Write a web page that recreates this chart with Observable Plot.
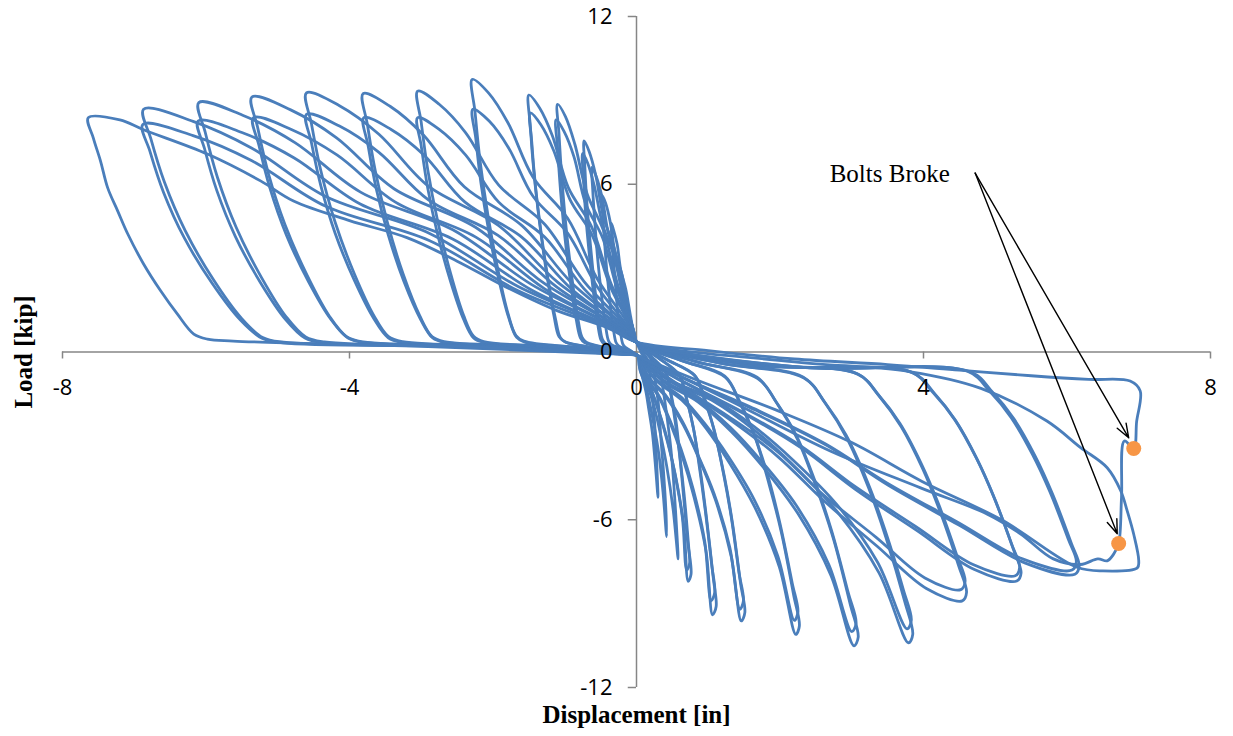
<!DOCTYPE html>
<html>
<head>
<meta charset="utf-8">
<script src="https://cdn.jsdelivr.net/npm/d3@7"></script>
<script src="https://cdn.jsdelivr.net/npm/@observablehq/plot@0.6"></script>
<style>
  html, body { margin: 0; padding: 0; background: #fff; }
  #chart { width: 1233px; height: 736px; }
</style>
</head>
<body>
<div id="chart"></div>
<script>
// ---- data: hysteresis cycles, [displacement (in), load (kip)] ----
const cycle01 = [[0.03,-0.15],[0.04,-0.52],[0.08,-0.88],[0.13,-1.40],[0.17,-2.03],[0.22,-2.86],[0.26,-3.95],[0.30,-5.2],[0.29,-4.47],[0.27,-3.33],[0.25,-2.44],[0.22,-1.56],[0.19,-0.94],[0.17,-0.47],[0.08,-0.1],[0,0.35],[-0.02,0.46],[-0.08,1.24],[-0.15,2.25],[-0.22,2.94],[-0.27,3.86],[-0.32,4.37],[-0.35,4.6],[-0.34,4.05],[-0.32,3.22],[-0.29,2.3],[-0.26,1.38],[-0.22,0.64],[-0.19,0.28],[-0.16,0.18],[-0.08,0.05],[0,-0.1]];
const cycle02 = [[0.03,-0.15],[0.05,-0.66],[0.12,-1.12],[0.18,-1.78],[0.24,-2.57],[0.31,-3.63],[0.37,-5.02],[0.42,-6.6],[0.41,-5.68],[0.375,-4.22],[0.34,-3.10],[0.31,-1.98],[0.27,-1.19],[0.23,-0.59],[0.11,-0.1],[0,0.35],[-0.02,0.56],[-0.12,1.51],[-0.20,2.74],[-0.30,3.58],[-0.37,4.70],[-0.43,5.32],[-0.48,5.6],[-0.47,4.93],[-0.445,3.92],[-0.41,2.8],[-0.365,1.68],[-0.32,0.78],[-0.285,0.34],[-0.25,0.22],[-0.12,0.08],[0,-0.1]];
const cycle03 = [[0.03,-0.15],[0.07,-0.74],[0.16,-1.26],[0.25,-2.0],[0.33,-2.89],[0.42,-4.07],[0.51,-5.62],[0.58,-7.4],[0.56,-6.36],[0.52,-4.74],[0.48,-3.48],[0.42,-2.22],[0.37,-1.33],[0.32,-0.67],[0.16,-0.12],[0,0.35],[-0.03,0.66],[-0.15,1.78],[-0.26,3.23],[-0.39,4.22],[-0.48,5.54],[-0.56,6.27],[-0.62,6.6],[-0.61,5.81],[-0.58,4.62],[-0.54,3.3],[-0.485,1.98],[-0.43,0.92],[-0.39,0.4],[-0.35,0.26],[-0.17,0.1],[0,-0.1]];
const cycle04 = [[0.03,-0.15],[0.09,-0.82],[0.21,-1.39],[0.32,-2.21],[0.43,-3.20],[0.55,-4.51],[0.66,-6.23],[0.72,-8.2],[0.76,-7.95],[0.73,-7.05],[0.67,-5.25],[0.61,-3.85],[0.55,-2.46],[0.48,-1.48],[0.41,-0.74],[0.2,-0.15],[0,0.35],[-0.04,0.76],[-0.18,2.04],[-0.31,3.70],[-0.46,4.83],[-0.57,6.34],[-0.66,7.17],[-0.73,7.55],[-0.72,6.64],[-0.69,5.29],[-0.64,3.78],[-0.58,2.27],[-0.52,1.06],[-0.475,0.45],[-0.43,0.3],[-0.21,0.1],[0,-0.1]];
const cycle05 = [[0.03,-0.15],[0.09,-0.78],[0.20,-1.33],[0.31,-2.11],[0.42,-3.04],[0.53,-4.29],[0.64,-5.93],[0.70,-7.8],[0.74,-7.55],[0.71,-6.71],[0.65,-4.99],[0.60,-3.67],[0.53,-2.34],[0.47,-1.40],[0.40,-0.70],[0.2,-0.15],[0,0.35],[-0.04,0.71],[-0.18,1.92],[-0.32,3.48],[-0.47,4.54],[-0.59,5.96],[-0.68,6.75],[-0.75,7.1],[-0.74,6.25],[-0.71,4.97],[-0.66,3.55],[-0.60,2.13],[-0.54,0.99],[-0.495,0.43],[-0.45,0.28],[-0.22,0.1],[0,-0.1]];
const cycle06 = [[0.03,-0.15],[0.13,-0.94],[0.31,-1.60],[0.47,-2.54],[0.63,-3.67],[0.80,-5.17],[0.97,-7.14],[1.06,-9.4],[1.11,-9.1],[1.07,-8.08],[0.98,-6.02],[0.90,-4.42],[0.80,-2.82],[0.70,-1.69],[0.60,-0.85],[0.3,-0.2],[0,0.35],[-0.06,0.89],[-0.26,2.39],[-0.46,4.34],[-0.69,5.67],[-0.86,7.44],[-0.99,8.42],[-1.10,8.86],[-1.08,7.80],[-1.04,6.20],[-0.98,4.43],[-0.90,2.66],[-0.82,1.24],[-0.76,0.53],[-0.70,0.35],[-0.35,0.12],[0,-0.1]];
const cycle07 = [[0.03,-0.15],[0.13,-0.89],[0.30,-1.51],[0.46,-2.40],[0.62,-3.47],[0.79,-4.90],[0.95,-6.76],[1.04,-8.9],[1.09,-8.6],[1.05,-7.65],[0.96,-5.70],[0.88,-4.18],[0.79,-2.67],[0.69,-1.60],[0.59,-0.80],[0.3,-0.2],[0,0.35],[-0.06,0.83],[-0.27,2.24],[-0.47,4.07],[-0.71,5.31],[-0.87,6.97],[-1.01,7.89],[-1.12,8.3],[-1.10,7.30],[-1.06,5.81],[-1.0,4.15],[-0.92,2.49],[-0.84,1.16],[-0.78,0.5],[-0.72,0.33],[-0.36,0.12],[0,-0.1]];
const cycle08 = [[0.03,-0.15],[0.18,-0.96],[0.42,-1.64],[0.65,-2.60],[0.86,-3.75],[1.10,-5.29],[1.32,-7.31],[1.46,-9.62],[1.51,-9.32],[1.45,-8.27],[1.34,-6.16],[1.23,-4.52],[1.09,-2.89],[0.96,-1.73],[0.82,-0.87],[0.41,-0.25],[0,0.35],[-0.08,0.92],[-0.36,2.48],[-0.63,4.50],[-0.95,5.88],[-1.17,7.72],[-1.35,8.73],[-1.50,9.19],[-1.48,8.09],[-1.43,6.43],[-1.35,4.60],[-1.25,2.76],[-1.15,1.29],[-1.08,0.55],[-1.0,0.37],[-0.5,0.12],[0,-0.1]];
const cycle09 = [[0.03,-0.15],[0.18,-0.92],[0.41,-1.56],[0.64,-2.48],[0.84,-3.59],[1.08,-5.06],[1.30,-6.99],[1.44,-9.2],[1.49,-8.9],[1.43,-7.91],[1.32,-5.89],[1.21,-4.32],[1.08,-2.76],[0.94,-1.66],[0.81,-0.83],[0.4,-0.25],[0,0.35],[-0.07,0.86],[-0.36,2.31],[-0.62,4.19],[-0.93,5.47],[-1.15,7.18],[-1.33,8.12],[-1.48,8.55],[-1.46,7.52],[-1.41,5.99],[-1.33,4.28],[-1.23,2.57],[-1.13,1.20],[-1.06,0.51],[-0.98,0.34],[-0.49,0.12],[0,-0.1]];
const cycle10 = [[0.03,-0.15],[0.27,-1.01],[0.63,-1.72],[0.97,-2.73],[1.29,-3.94],[1.65,-5.56],[1.99,-7.68],[2.22,-10.1],[2.27,-9.8],[2.19,-8.69],[2.02,-6.46],[1.85,-4.75],[1.65,-3.03],[1.44,-1.82],[1.24,-0.91],[0.62,-0.3],[0,0.35],[-0.11,0.98],[-0.55,2.63],[-0.96,4.78],[-1.44,6.24],[-1.79,8.19],[-2.06,9.26],[-2.29,9.75],[-2.25,8.58],[-2.18,6.83],[-2.07,4.88],[-1.93,2.93],[-1.79,1.37],[-1.68,0.59],[-1.57,0.39],[-0.78,0.15],[0,-0.1]];
const cycle11 = [[0.03,-0.15],[0.27,-0.96],[0.63,-1.63],[0.96,-2.59],[1.28,-3.74],[1.64,-5.28],[1.97,-7.30],[2.20,-9.6],[2.25,-9.3],[2.17,-8.26],[2.0,-6.14],[1.84,-4.51],[1.63,-2.88],[1.43,-1.73],[1.23,-0.86],[0.62,-0.3],[0,0.35],[-0.11,0.87],[-0.55,2.34],[-0.96,4.25],[-1.44,5.56],[-1.78,7.29],[-2.05,8.25],[-2.28,8.68],[-2.24,7.64],[-2.17,6.08],[-2.06,4.34],[-1.92,2.60],[-1.78,1.22],[-1.67,0.52],[-1.56,0.35],[-0.78,0.15],[0,-0.1]];
const cycle12 = [[0.03,-0.15],[0.37,-1.05],[0.86,-1.79],[1.32,-2.84],[1.76,-4.10],[2.25,-5.78],[2.71,-7.99],[3.03,-10.51],[3.09,-10.2],[2.98,-9.04],[2.75,-6.73],[2.52,-4.94],[2.25,-3.15],[1.97,-1.89],[1.69,-0.95],[0.85,-0.35],[0,0.35],[-0.15,0.93],[-0.73,2.52],[-1.28,4.57],[-1.92,5.97],[-2.38,7.84],[-2.75,8.86],[-3.05,9.33],[-3.0,8.21],[-2.91,6.53],[-2.77,4.67],[-2.59,2.80],[-2.41,1.31],[-2.27,0.56],[-2.13,0.37],[-1.06,0.18],[0,-0.1]];
const cycle13 = [[0.03,-0.15],[0.37,-1.0],[0.85,-1.7],[1.31,-2.7],[1.74,-3.9],[2.23,-5.5],[2.68,-7.6],[3.0,-10.0],[3.06,-9.7],[2.95,-8.6],[2.72,-6.4],[2.50,-4.7],[2.23,-3.0],[1.95,-1.8],[1.68,-0.9],[0.84,-0.35],[0,0.35],[-0.15,0.84],[-0.73,2.26],[-1.28,4.11],[-1.92,5.36],[-2.38,7.04],[-2.75,7.96],[-3.05,8.38],[-3.0,7.37],[-2.91,5.87],[-2.77,4.19],[-2.59,2.51],[-2.41,1.17],[-2.27,0.5],[-2.13,0.34],[-1.06,0.18],[0,-0.1]];
const cycle14 = [[0.03,-0.15],[0.46,-1.04],[1.08,-1.77],[1.65,-2.81],[2.19,-4.06],[2.80,-5.72],[3.38,-7.90],[3.79,-10.4],[3.85,-10.1],[3.74,-8.94],[3.48,-6.66],[3.24,-4.89],[2.94,-3.12],[2.64,-1.87],[2.34,-0.94],[1.17,-0.4],[0,0.35],[-0.19,0.92],[-0.91,2.49],[-1.60,4.53],[-2.40,5.91],[-2.97,7.76],[-3.43,8.78],[-3.81,9.24],[-3.75,8.13],[-3.64,6.47],[-3.47,4.62],[-3.25,2.77],[-3.02,1.29],[-2.85,0.55],[-2.68,0.37],[-1.34,0.2],[0,-0.1]];
const cycle15 = [[0.03,-0.15],[0.46,-0.99],[1.07,-1.68],[1.64,-2.67],[2.18,-3.86],[2.79,-5.45],[3.36,-7.52],[3.77,-9.9],[3.83,-9.6],[3.72,-8.51],[3.46,-6.34],[3.22,-4.65],[2.92,-2.97],[2.62,-1.78],[2.32,-0.89],[1.16,-0.4],[0,0.35],[-0.19,0.84],[-0.91,2.26],[-1.60,4.11],[-2.39,5.36],[-2.96,7.04],[-3.42,7.96],[-3.80,8.38],[-3.74,7.37],[-3.63,5.87],[-3.46,4.19],[-3.24,2.51],[-3.01,1.17],[-2.84,0.50],[-2.67,0.34],[-1.34,0.2],[0,-0.1]];
const cycle16 = [[0.03,-0.15],[0.55,-1.16],[1.29,-2.40],[1.97,-3.74],[2.62,-5.34],[3.35,-6.94],[4.04,-8.46],[4.54,-8.9],[4.60,-8.6],[4.49,-7.65],[4.23,-5.70],[3.99,-4.18],[3.69,-2.67],[3.39,-1.60],[3.09,-0.80],[1.55,-0.45],[0,0.35],[-0.23,0.93],[-1.10,2.50],[-1.93,4.54],[-2.90,5.93],[-3.59,7.79],[-4.14,8.81],[-4.60,9.27],[-4.53,8.16],[-4.40,6.49],[-4.20,4.64],[-3.93,2.78],[-3.66,1.30],[-3.46,0.56],[-3.26,0.37],[-1.63,0.2],[0,-0.1]];
const cycle17 = [[0.03,-0.15],[0.55,-1.11],[1.28,-2.30],[1.97,-3.57],[2.60,-5.10],[3.34,-6.63],[4.02,-8.08],[4.52,-8.5],[4.58,-8.2],[4.47,-7.31],[4.21,-5.44],[3.97,-4.0],[3.67,-2.55],[3.37,-1.53],[3.07,-0.77],[1.54,-0.45],[0,0.35],[-0.23,0.85],[-1.10,2.30],[-1.93,4.17],[-2.90,5.44],[-3.59,7.14],[-4.14,8.08],[-4.60,8.50],[-4.53,7.48],[-4.40,5.95],[-4.20,4.25],[-3.93,2.55],[-3.66,1.19],[-3.46,0.51],[-3.26,0.34],[-1.63,0.2],[0,-0.1]];
const cycle18 = [[0.03,-0.15],[0.64,-1.06],[1.50,-2.21],[2.30,-3.44],[3.05,-4.91],[3.91,-6.39],[4.71,-7.78],[5.30,-8.19],[5.36,-7.9],[5.25,-7.04],[4.99,-5.24],[4.75,-3.85],[4.45,-2.46],[4.15,-1.47],[3.85,-0.74],[1.92,-0.5],[0,0.35],[-0.27,0.91],[-1.29,2.46],[-2.25,4.47],[-3.38,5.84],[-4.18,7.66],[-4.82,8.66],[-5.36,9.12],[-5.28,8.03],[-5.13,6.38],[-4.90,4.56],[-4.59,2.74],[-4.28,1.28],[-4.04,0.55],[-3.81,0.36],[-1.9,0.2],[0,-0.1]];
const cycle19 = [[0.03,-0.15],[0.64,-1.04],[1.49,-2.16],[2.29,-3.36],[3.04,-4.80],[3.89,-6.24],[4.69,-7.60],[5.28,-8.0],[5.34,-7.7],[5.23,-6.88],[4.97,-5.12],[4.73,-3.76],[4.43,-2.40],[4.13,-1.44],[3.83,-0.72],[1.91,-0.5],[0,0.35],[-0.27,0.84],[-1.28,2.26],[-2.24,4.11],[-3.36,5.36],[-4.17,7.04],[-4.81,7.96],[-5.34,8.38],[-5.26,7.37],[-5.11,5.87],[-4.88,4.19],[-4.57,2.51],[-4.26,1.17],[-4.02,0.50],[-3.79,0.34],[-1.9,0.2],[0,-0.1]];
const cycle20 = [[0.03,-0.15],[0.74,-1.03],[1.72,-2.15],[2.65,-3.34],[3.51,-4.77],[4.50,-6.20],[5.42,-7.55],[6.11,-7.95],[6.17,-7.65],[6.06,-6.84],[5.80,-5.09],[5.56,-3.74],[5.26,-2.39],[4.96,-1.43],[4.66,-0.72],[2.33,-0.55],[0,0.35],[-0.31,0.89],[-1.46,2.41],[-2.56,4.37],[-3.84,5.71],[-4.76,7.49],[-5.49,8.47],[-6.10,8.92],[-6.01,7.85],[-5.84,6.24],[-5.58,4.46],[-5.23,2.68],[-4.88,1.25],[-4.61,0.54],[-4.35,0.36],[-2.18,0.2],[0,-0.1]];
const cycle21 = [[0.03,-0.15],[0.73,-1.01],[1.71,-2.11],[2.63,-3.28],[3.49,-4.68],[4.47,-6.08],[5.39,-7.41],[6.07,-7.8],[6.13,-7.5],[6.02,-6.71],[5.76,-4.99],[5.52,-3.67],[5.22,-2.34],[4.92,-1.40],[4.62,-0.70],[2.31,-0.55],[0,0.35],[-0.31,0.83],[-1.47,2.23],[-2.57,4.05],[-3.85,5.29],[-4.77,6.94],[-5.50,7.85],[-6.11,8.26],[-6.02,7.27],[-5.85,5.78],[-5.59,4.13],[-5.24,2.48],[-4.89,1.16],[-4.62,0.50],[-4.36,0.33],[-2.18,0.2],[0,-0.1]];
const cycle22 = [[0.03,-0.15],[0.84,-1.0],[1.95,-2.08],[3.0,-3.24],[3.98,-4.63],[5.10,-6.02],[6.14,-7.7],[6.5,-7.83],[6.98,-7.72],[7.0,-7.47],[6.93,-6.52],[6.84,-5.69],[6.75,-4.97],[6.56,-4.14],[6.19,-3.42],[5.72,-2.47],[4.8,-1.3],[3.8,-0.7],[2.2,-0.35],[0,0.35],[-0.34,0.87],[-1.65,2.34],[-2.89,4.25],[-4.33,5.56],[-5.36,7.29],[-6.18,8.25],[-6.87,8.68],[-6.77,7.64],[-6.58,6.08],[-6.29,4.34],[-5.90,2.60],[-5.51,1.22],[-5.21,0.52],[-4.92,0.35],[-2.46,0.2],[0,-0.1]];
const cycle23 = [[0.03,-0.15],[1.31,-1.75],[2.7,-3.54],[3.96,-4.86],[4.89,-5.8],[5.35,-6.5],[5.81,-7.4],[6.19,-7.6],[6.43,-7.4],[6.56,-7.47],[6.65,-7.23],[6.72,-6.85],[6.76,-5.2],[6.80,-3.18],[6.93,-3.45],[6.97,-2.5],[7.02,-1.39],[6.88,-1.04],[6.3,-0.98],[5.5,-0.85],[4.5,-0.65],[3.5,-0.45],[2.2,-0.25],[1.0,0.05],[0,0.35],[-0.41,0.87],[-1.1,1.47],[-1.8,2.3],[-2.5,3.25],[-3.2,4.09],[-4.0,4.7],[-4.78,5.4],[-5.24,6.12],[-5.98,7.08],[-6.87,7.95],[-7.2,8.3],[-7.64,8.38],[-7.57,7.65],[-7.47,6.83],[-7.37,5.87],[-7.23,5.04],[-7.09,4.22],[-6.87,3.15],[-6.63,2.18],[-6.40,1.36],[-6.17,0.64],[-5.98,0.46],[-5.62,0.39],[-3.0,0.2],[0,-0.1]];
const cycle24 = [[0,0.35],[-0.34,0.82],[-1.65,2.19],[-2.89,3.99],[-4.33,5.21],[-5.36,6.84],[-6.18,7.74],[-6.88,8.14],[-6.78,7.17],[-6.59,5.70],[-6.30,4.07],[-5.91,2.44],[-5.52,1.14],[-5.22,0.49],[-4.93,0.33],[-2.46,0.2],[0,-0.1]];

const cycles = [cycle01, cycle02, cycle03, cycle04, cycle05, cycle06, cycle07, cycle08,
  cycle09, cycle10, cycle11, cycle12, cycle13, cycle14, cycle15, cycle16, cycle17,
  cycle18, cycle19, cycle20, cycle21, cycle22, cycle23, cycle24];

const boltBreaks = [[6.93, -3.45], [6.72, -6.85]];
const calloutLabel = "Bolts Broke";
const calloutFrom = [4.72, 6.40];
const calloutTo = [[6.86, -3.07], [6.70, -6.50]];

const xTicks = [-8, -4, 0, 4, 8];
const yTicks = [-12, -6, 0, 6, 12];
const xTitle = "Displacement [in]";
const yTitle = "Load [kip]";

// ---- build table ----
const table = cycles.flatMap((c, i) => c.map(([x, y]) => ({x, y, cycle: i})));
const arrows = calloutTo.map(([x2, y2]) => ({x1: calloutFrom[0], y1: calloutFrom[1], x2, y2}));
const breaks = boltBreaks.map(([x, y]) => ({x, y}));

const axisColor = "#868686";
const sans = "'Open Sans', 'Liberation Sans', sans-serif";
const serif = "'Liberation Serif', 'DejaVu Serif', serif";

const chart = Plot.plot({
  width: 1233,
  height: 736,
  marginTop: 16,
  marginBottom: 49,
  marginLeft: 62,
  marginRight: 23,
  x: {domain: [-8, 8], axis: null},
  y: {domain: [-12, 12], axis: null},
  style: {background: "#fff", overflow: "visible"},
  marks: [
    Plot.ruleY([0], {stroke: axisColor, strokeWidth: 1.5}),
    Plot.ruleX([0], {stroke: axisColor, strokeWidth: 1.5}),
    Plot.ruleX(xTicks, {x: d => d, y1: 0, y2: -0.25, stroke: axisColor, strokeWidth: 1.5}),
    Plot.ruleY(yTicks, {y: d => d, x1: -0.115, x2: 0, stroke: axisColor, strokeWidth: 1.5}),
    Plot.line(table, {x: "x", y: "y", z: "cycle", stroke: "#4a7ebb", strokeWidth: 2.8, curve: "catmull-rom", strokeLinejoin: "round"}),
    Plot.text(xTicks, {x: d => d, y: 0, dy: 36, text: d => String(d), fontSize: 22, fontFamily: sans, fill: "#000", textAnchor: "middle", lineAnchor: "middle"}),
    Plot.text(yTicks, {x: 0, y: d => d, dx: -24, text: d => String(d), fontSize: 22, fontFamily: sans, fill: "#000", textAnchor: "end", lineAnchor: "middle"}),
    Plot.arrow(arrows, {x1: "x1", y1: "y1", x2: "x2", y2: "y2", stroke: "#000", strokeWidth: 1.4, headLength: 16, headAngle: 40}),
    Plot.dot(breaks, {x: "x", y: "y", r: 7.5, fill: "#f79646", stroke: "none"}),
    Plot.text([calloutLabel], {x: 3.53, y: 6.37, text: d => d, fontSize: 25, fontFamily: serif, fill: "#000", textAnchor: "middle", lineAnchor: "middle"}),
    Plot.text([xTitle], {x: 0, y: -12, dy: 27, text: d => d, fontSize: 25, fontWeight: "bold", fontFamily: serif, fill: "#000", textAnchor: "middle", lineAnchor: "middle"}),
    Plot.text([yTitle], {x: -8, y: 0, dx: -39, rotate: -90, text: d => d, fontSize: 25, fontWeight: "bold", fontFamily: serif, fill: "#000", textAnchor: "middle", lineAnchor: "middle"})
  ]
});
document.getElementById("chart").appendChild(chart);
</script>
</body>
</html>
